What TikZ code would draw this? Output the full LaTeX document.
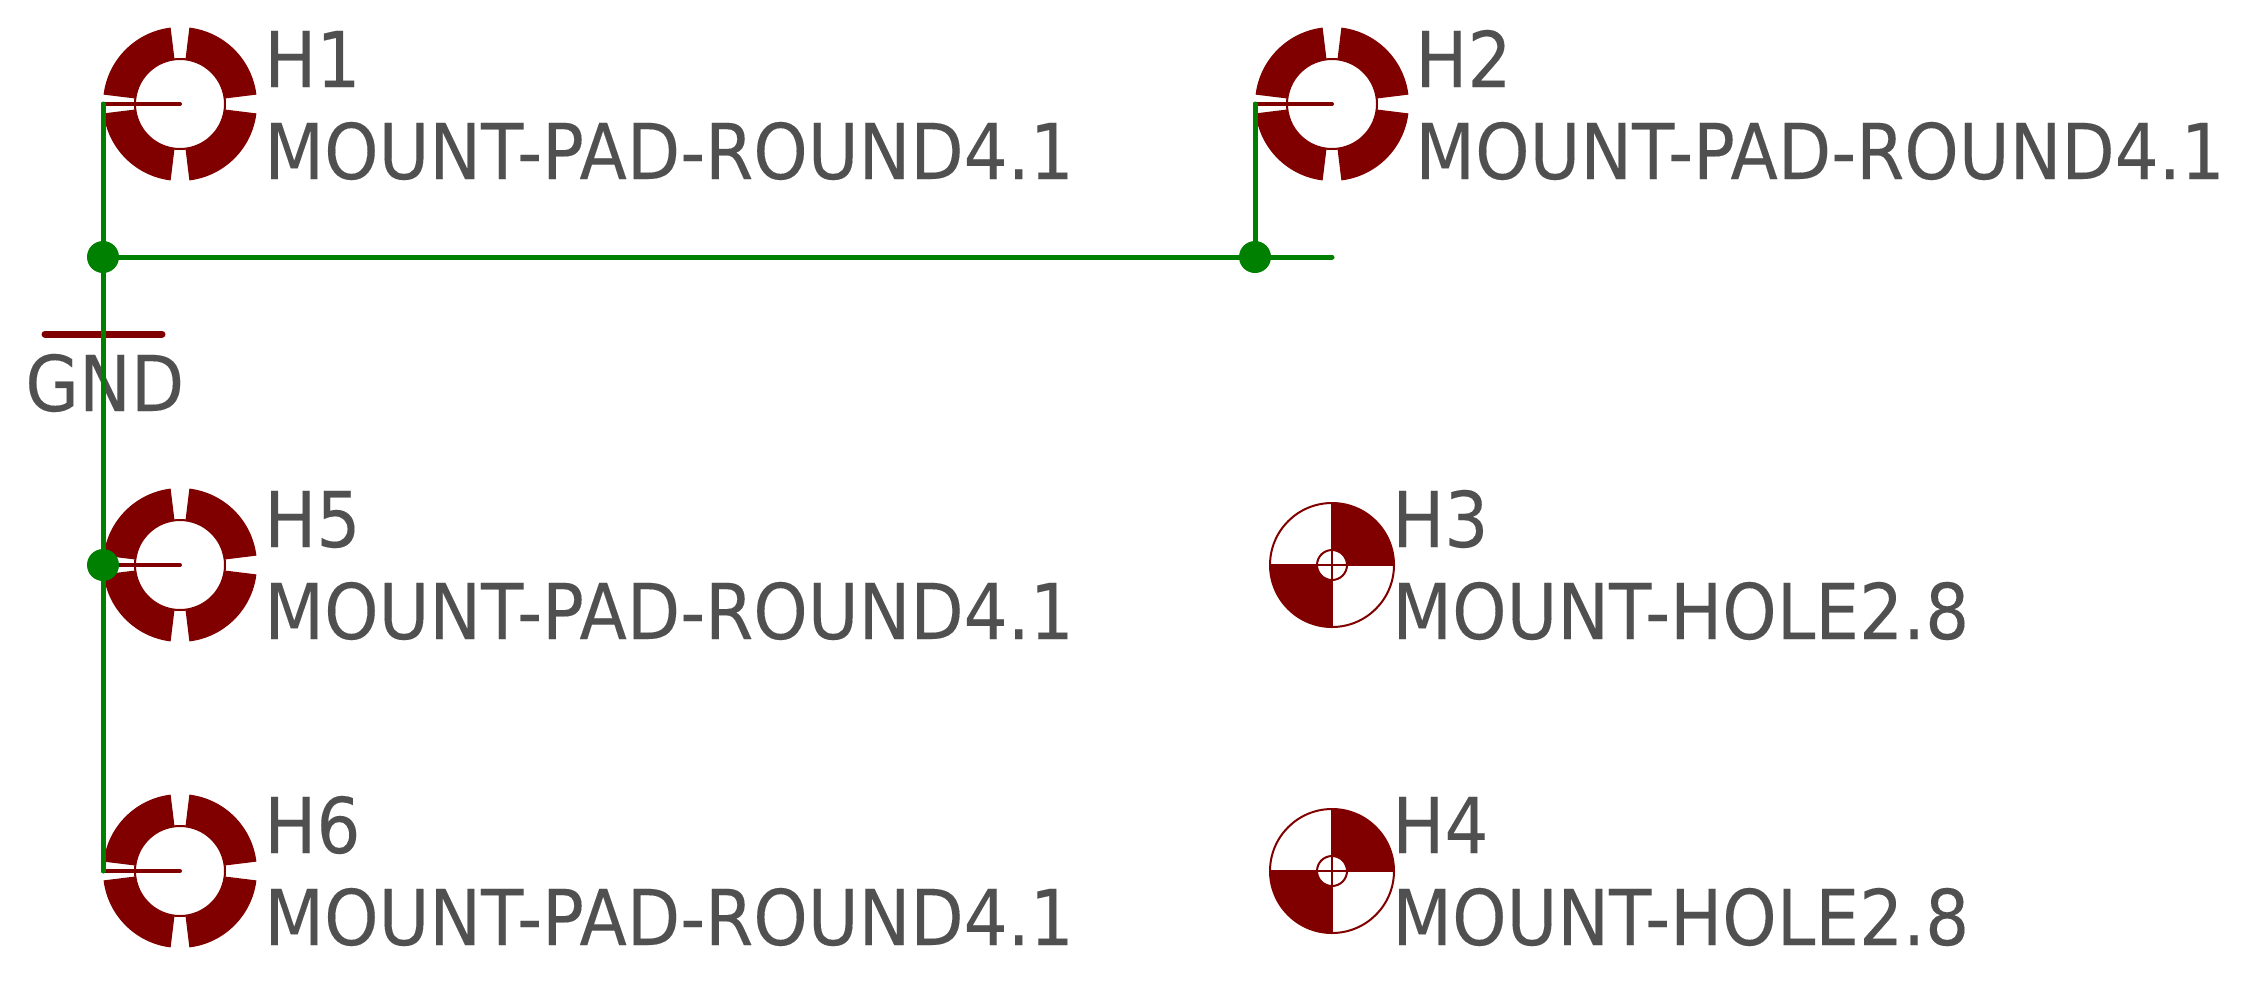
\documentclass[tikz,border=0pt]{standalone}
\usepackage{fontspec}
\setmainfont{DejaVu Sans}[FakeStretch=0.9, FakeBold=0.15]
\usetikzlibrary{positioning}
\definecolor{padred}{HTML}{800000}
\definecolor{wiregreen}{HTML}{008000}
\definecolor{labelgray}{HTML}{505050}

\begin{document}
\begin{tikzpicture}[
    x=0.02cm, y=-0.02cm,
    wire/.style={draw=wiregreen, line width=0.1cm, line cap=round},
    pinline/.style={draw=padred, line width=0.08cm, line cap=round},
    junction/.style={circle, fill=wiregreen, inner sep=0pt, minimum size=0.64cm},
    gndbar/.style={draw=padred, line width=0.14cm, line cap=round},
    partlabel/.style={anchor=base west, inner sep=0pt, text=labelgray, font=\fontsize{43.8pt}{44pt}\selectfont},
    padpart/.style={fill=padred},
    holeline/.style={draw=padred, line width=0.04cm}
]
    \useasboundingbox (0,0) rectangle (2248,988);

    % Round pads H1 H2 H5 H6
    \foreach \cx/\cy in {180/104, 1332/104, 180/565, 180/871} {
        \foreach \a in {7,97,187,277} {
            \fill[padpart] ({\cx+77*cos(\a)},{\cy-77*sin(\a)})
                arc[start angle=\a, end angle=\a+76, x radius=77, y radius=-77]
                -- ({\cx+45*cos(\a+76)},{\cy-45*sin(\a+76)})
                arc[start angle=\a+76, end angle=\a, x radius=45, y radius=-45] -- cycle;
        }
        \draw[holeline] (\cx,\cy) circle[radius=45];
    }

    % Mounting holes H3 H4
    \foreach \cx/\cy in {1332/565, 1332/871} {
        \fill[padpart] (\cx,\cy) -- (\cx+62,\cy) arc[start angle=0, end angle=90, x radius=62, y radius=-62] -- cycle;
        \fill[padpart] (\cx,\cy) -- (\cx-62,\cy) arc[start angle=180, end angle=270, x radius=62, y radius=-62] -- cycle;
        \fill[white] (\cx,\cy) circle[radius=15];
        \draw[holeline] (\cx,\cy) circle[radius=62];
        \draw[holeline] (\cx,\cy) circle[radius=15];
        \draw[holeline] (\cx-62,\cy) -- (\cx+62,\cy);
        \draw[holeline] (\cx,\cy-62) -- (\cx,\cy+62);
    }

    % Labels
    \node[partlabel] (h1name) at (264,87) {H1};
    \node[partlabel] (h1val) at (264,179) {MOUNT-PAD-ROUND4.1};
    \node[partlabel] (h2name) at (1415,87) {H2};
    \node[partlabel] (h2val) at (1415,179) {MOUNT-PAD-ROUND4.1};
    \node[partlabel] (h5name) at (264,547) {H5};
    \node[partlabel] (h5val) at (264,639) {MOUNT-PAD-ROUND4.1};
    \node[partlabel] (h6name) at (264,853) {H6};
    \node[partlabel] (h6val) at (264,945) {MOUNT-PAD-ROUND4.1};
    \node[partlabel] (h3name) at (1392,547) {H3};
    \node[partlabel] (h3val) at (1392,639) {MOUNT-HOLE2.8};
    \node[partlabel] (h4name) at (1392,853) {H4};
    \node[partlabel] (h4val) at (1392,945) {MOUNT-HOLE2.8};
    \node[partlabel] (gndlabel) at (25,411) {GND};

    % GND symbol bar
    \coordinate (gndl) at (45,334);
    \coordinate (gndr) at (162,334);
    \draw[gndbar] (gndl) -- (gndr);

    % Pin ends
    \coordinate (h1pin) at (103,104);
    \coordinate (h1mid) at (180,104);
    \coordinate (h2pin) at (1255,104);
    \coordinate (h2mid) at (1332,104);
    \coordinate (h5pin) at (103,565);
    \coordinate (h5mid) at (180,565);
    \coordinate (h6pin) at (103,871);
    \coordinate (h6mid) at (180,871);
    \coordinate (netend) at (1332,257);
    \draw[pinline] (h1pin) -- (h1mid);
    \draw[pinline] (h2pin) -- (h2mid);
    \draw[pinline] (h5pin) -- (h5mid);
    \draw[pinline] (h6pin) -- (h6mid);

    % Net
    \node[junction] (j1) at (103,257) {};
    \node[junction] (j2) at (1255,257) {};
    \node[junction] (j3) at (103,565) {};
    \draw[wire] (h1pin) -- (j1.center) -- (j3.center) -- (h6pin);
    \draw[wire] (j1.center) -- (j2.center) -- (netend);
    \draw[wire] (h2pin) -- (j2.center);
\end{tikzpicture}
\end{document}
